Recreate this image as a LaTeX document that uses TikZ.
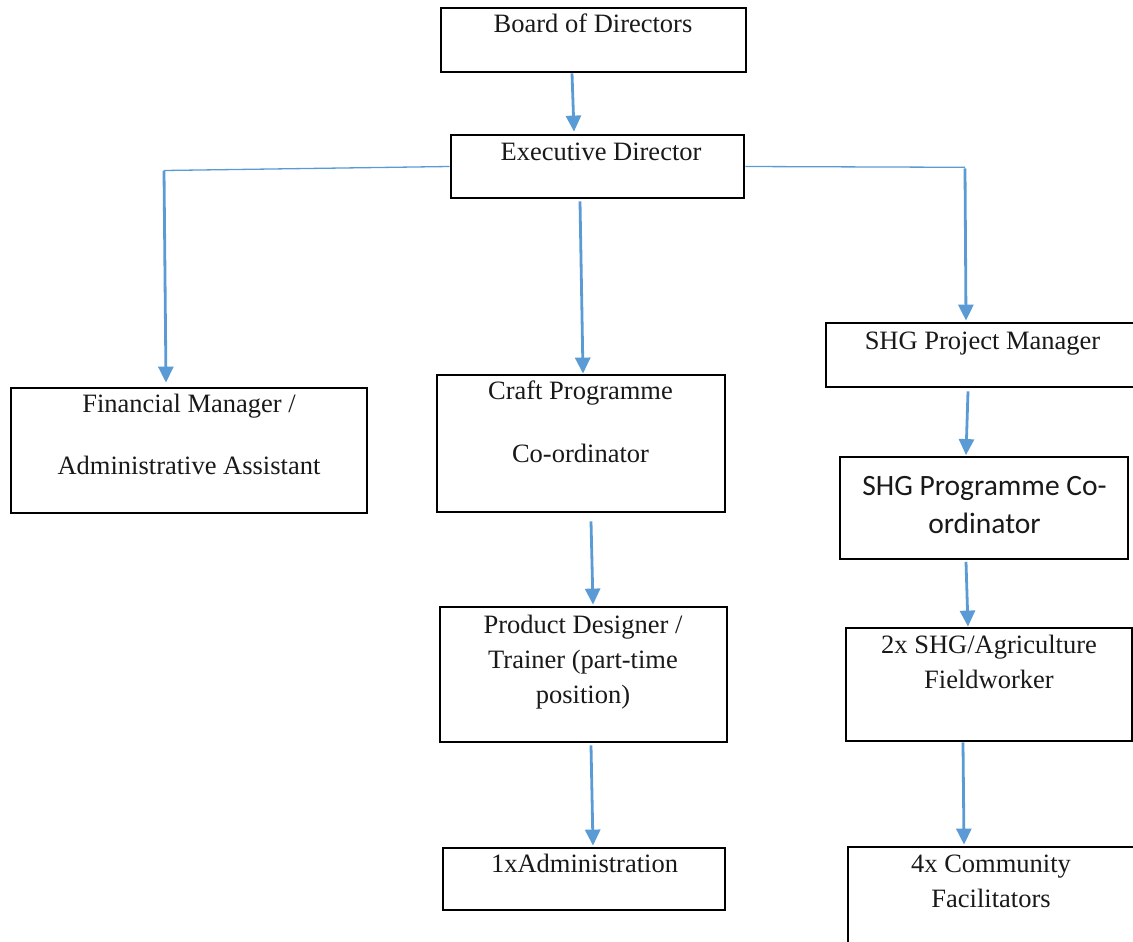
\documentclass[tikz,border=0pt]{standalone}
\usepackage{fontspec}
\setmainfont{Liberation Serif}
\newfontfamily\calibrifont{Carlito}
\usetikzlibrary{arrows.meta}
\definecolor{linkblue}{HTML}{5B9BD5}
\begin{document}
\begin{tikzpicture}[x=1pt,y=-1pt,
  box/.style={draw=black,line width=2.8pt,inner sep=0pt,minimum width=#1},
  thinbox/.style={draw=black,line width=1.8pt,inner sep=0pt,minimum width=#1},
  label1/.style={anchor=base,inner sep=0pt,align=center,text=black!90,
    font=\fontsize{26.5}{#1}\selectfont},
  label1/.default=35,
  sanslabel/.style={anchor=base,inner sep=0pt,align=center,text=black!90,
    font=\calibrifont\fontsize{29.5}{38}\selectfont},
  arr/.style={draw=linkblue,line width=2.8pt,-{Triangle[length=16pt,width=15pt]}},
  branch/.style={draw=linkblue,line width=1.3pt}]
\useasboundingbox (0,0) rectangle (1133,942);
\clip (0,0) rectangle (1133,942);

% boxes
\node[box=305,minimum height=64] (board) at (593.5,40) {};
\node[box=293,minimum height=63] (exec) at (597.5,166.5) {};
\node[box=356,minimum height=125] (fin) at (189,450.5) {};
\node[box=288,minimum height=137] (craft) at (581,443.5) {};
\node[box=319,minimum height=64] (shgpm) at (985.5,355) {};
\node[thinbox=288,minimum height=102] (shgpc) at (984,508) {};
\node[box=286,minimum height=113] (field) at (989,684.5) {};
\node[box=287,minimum height=135] (prod) at (583.5,674.5) {};
\node[box=282,minimum height=62] (admin) at (584,879) {};
\node[box=297,minimum height=130] (comm) at (996.5,912) {};

% texts (anchored on the baseline of the last line)
\node[label1] (tboard) at (593,33) {Board of Directors};
\node[label1] (texec) at (601,160) {Executive Director};
\node[label1=62] (tfin) at (189,474) {Financial Manager /\\Administrative Assistant};
\node[label1=63] (tcraft) at (580.5,462) {Craft Programme\\Co-ordinator};
\node[label1] (tshgpm) at (982.5,349) {SHG Project Manager};
\node[sanslabel] (tshgpc) at (984.5,533) {SHG Programme Co-\\ordinator};
\node[label1] (tprod) at (583,703) {Product Designer /\\Trainer (part-time\\position)};
\node[label1] (tadmin) at (584.5,872) {1xAdministration};
\node[label1] (tfield) at (989,688) {2x SHG/Agriculture\\Fieldworker};
\node[label1] (tcomm) at (991,907) {4x Community\\Facilitators};

% connectors
\coordinate (lturn) at (164,170.5);
\coordinate (rturn) at (965,167.3);

\draw[arr] ([xshift=-21.5pt]board.south) -- ([xshift=-23.5pt,yshift=2pt]exec.north);
\draw[arr] ([xshift=-17.5pt,yshift=-2pt]exec.south) -- ([xshift=2pt]craft.north);

\draw[branch] (exec.west) -- (lturn);
\draw[arr] (lturn) -- ([xshift=-23pt,yshift=4pt]fin.north);

\draw[branch] (exec.east) -- (rturn);
\draw[arr] ([yshift=-1pt]rturn) -- ([xshift=-19.5pt,yshift=1pt]shgpm.north);

\draw[arr] ([xshift=10pt,yshift=-8pt]craft.south) -- ([xshift=9.5pt,yshift=1pt]prod.north);
\draw[arr] ([xshift=7.5pt,yshift=-2pt]prod.south) -- ([xshift=9pt,yshift=1pt]admin.north);

\draw[arr] ([xshift=-17.5pt,yshift=-3pt]shgpm.south) -- ([xshift=-18pt,yshift=1pt]shgpc.north);
\draw[arr] ([xshift=-18pt,yshift=-2pt]shgpc.south) -- ([xshift=-21pt]field.north);
\draw[arr] ([xshift=-26pt]field.south) -- ([xshift=-32.5pt,yshift=1pt]comm.north);
\end{tikzpicture}
\end{document}
